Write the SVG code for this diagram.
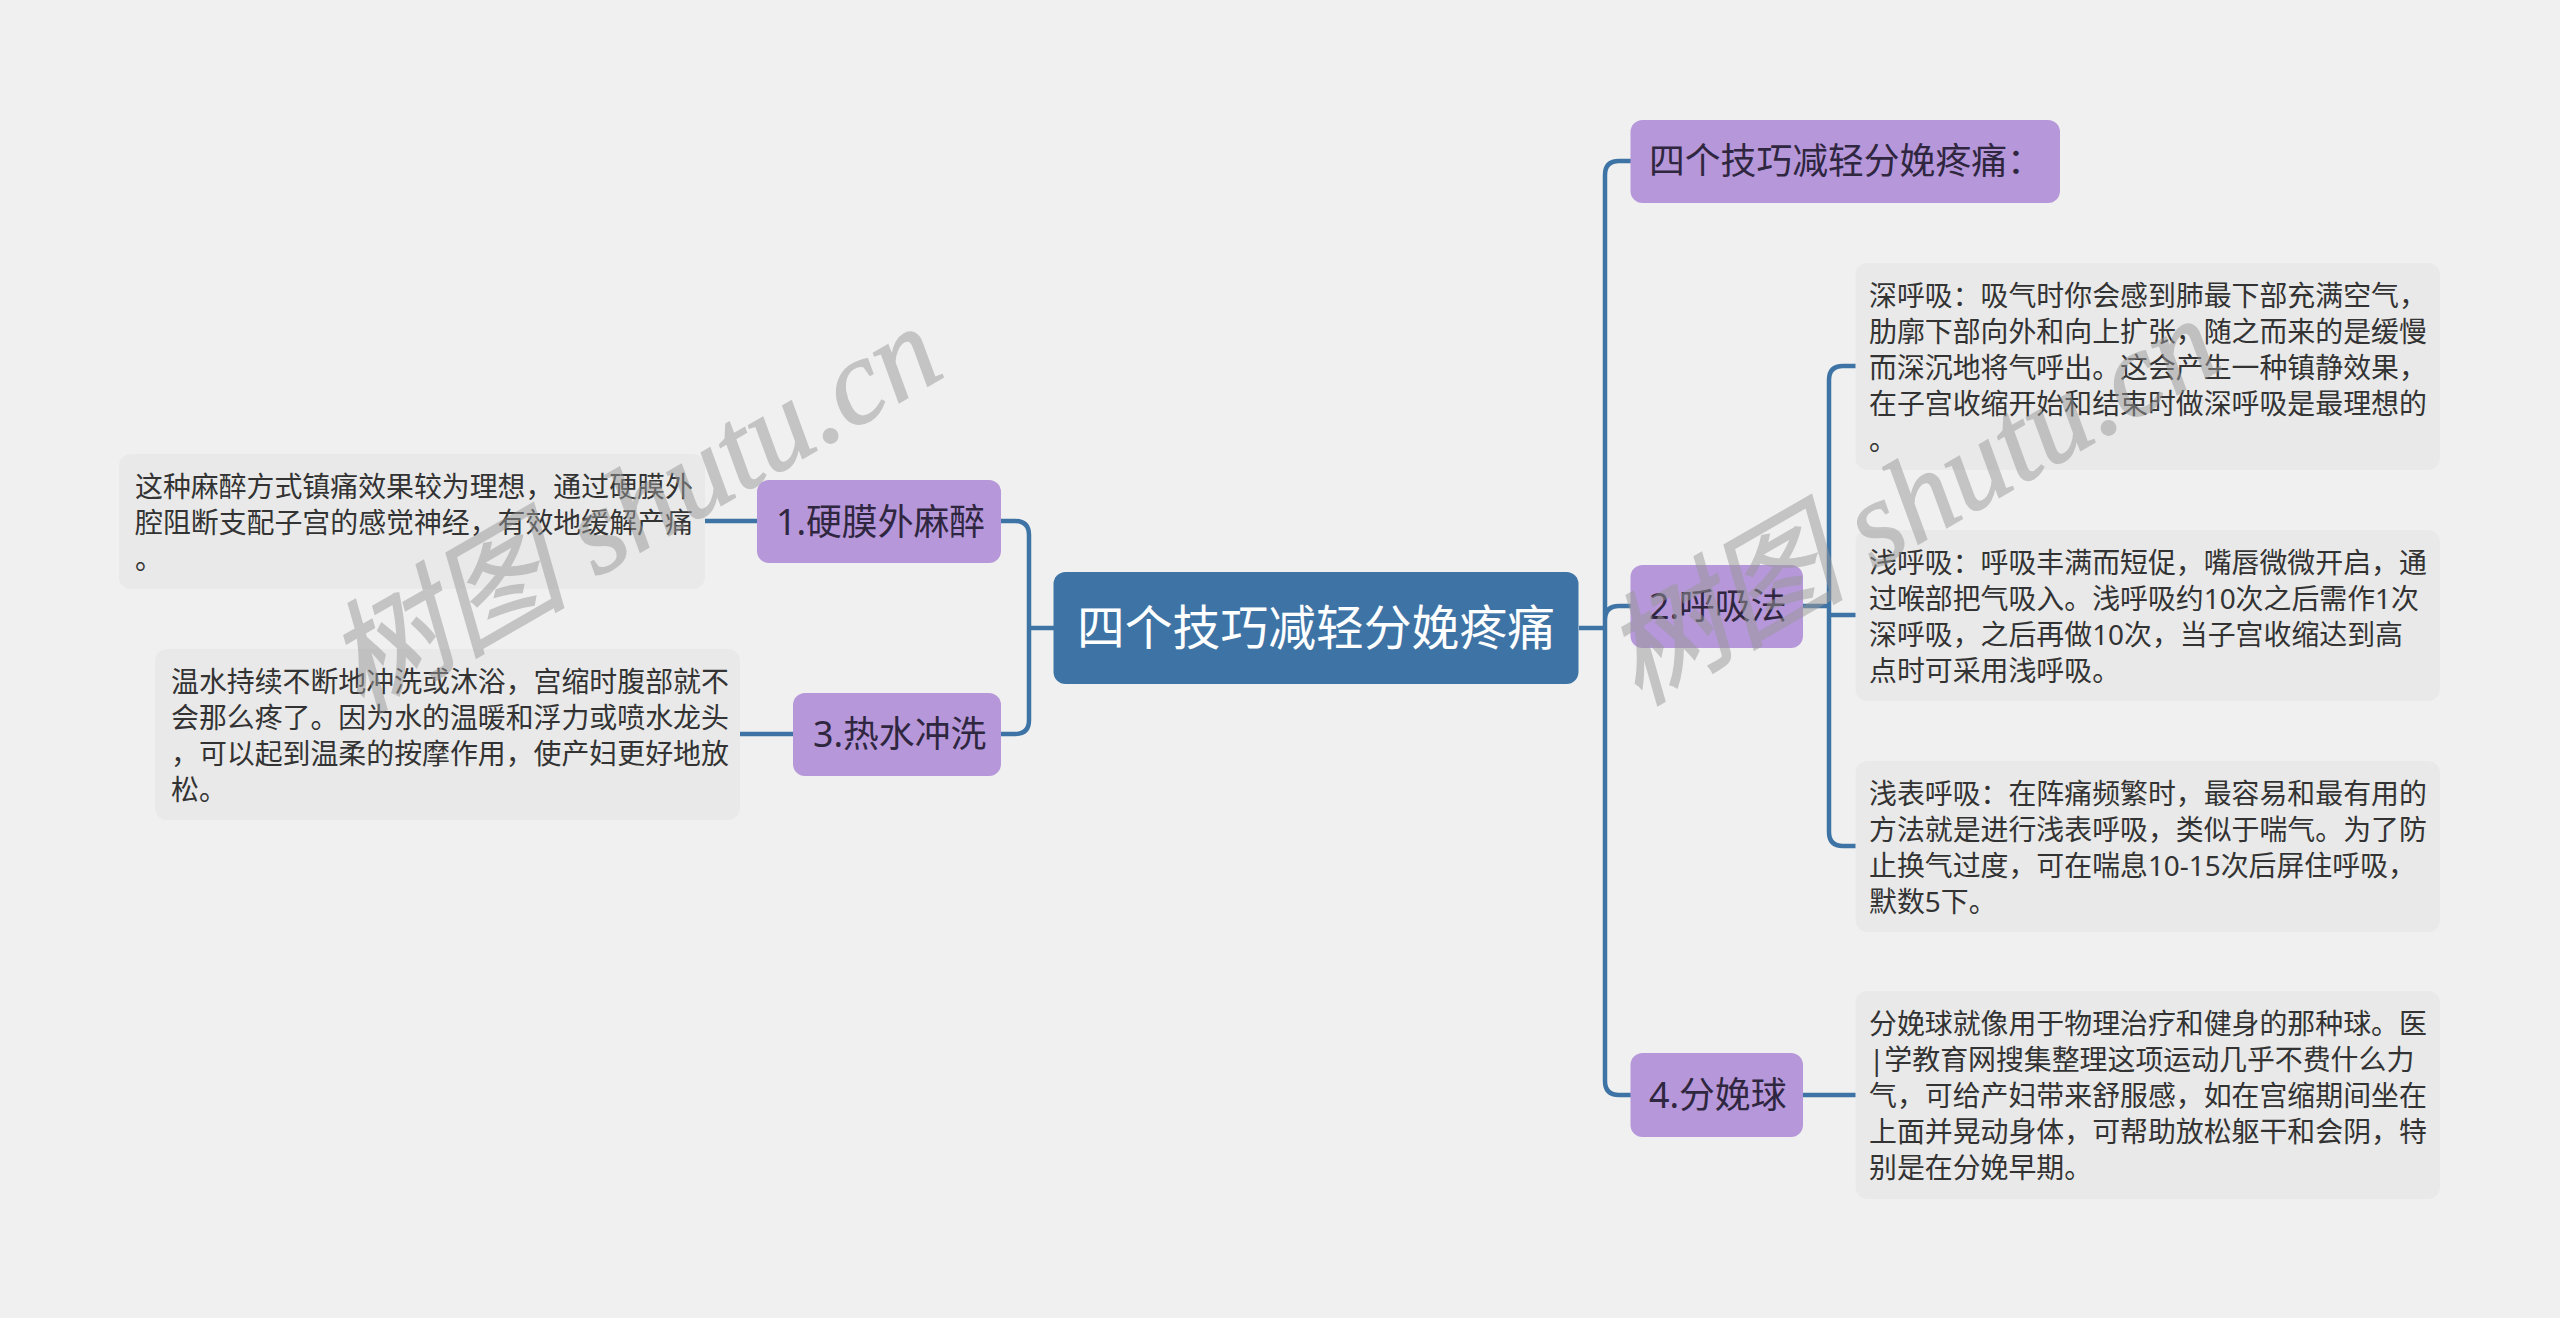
<svg xmlns="http://www.w3.org/2000/svg" width="2560" height="1318" viewBox="0 0 2560 1318">
<style>
text{font-family:"Noto Sans","Noto Sans CJK SC",sans-serif;font-weight:400}
.c{fill:none;stroke:#3e74a5;stroke-width:4.5}
.r{fill:#3e74a5}
.m{fill:#b697d9}
.d{fill:#e9e9e9}
.rt{font-size:47.8px;fill:#fff}
.mt{font-size:35.8px;fill:#2f2640}
.dt{font-size:27.9px;fill:#333}
.w{font-family:"Liberation Serif","Noto Sans CJK SC",serif;font-style:italic;font-weight:400;font-size:121px;fill:#999;stroke:#999;stroke-width:1.5;opacity:.5}
</style>
<rect width="2560" height="1318" fill="#f0f0f0"/>
<g id="connectors">
<path class="c" d="M1054 628H1029M1001 521H1015Q1029 521 1029 535V720Q1029 734 1015 734H1001"/>
<path class="c" d="M1579 628H1605M1631 161H1619Q1605 161 1605 175V1081Q1605 1095 1619 1095H1631M1631 606H1619Q1605 606 1605 620"/>
<path class="c" d="M1803 606H1829M1856 366H1843Q1829 366 1829 380V832Q1829 846 1843 846H1856M1829 615H1856"/>
<path class="c" d="M704 521H757M740 734H793M1803 1095H1856"/>
</g>
<g id="root"><rect class="r" x="1053.5" y="572" width="525" height="112" rx="12"/><text class="rt" x="1077" y="645">四个技巧减轻分娩疼痛</text></g>
<g id="n0"><rect class="m" x="1630.5" y="120" width="429.5" height="83" rx="12"/><text class="mt" x="1649" y="174">四个技巧减轻分娩疼痛：</text></g>
<g id="n2"><rect class="m" x="1630.5" y="565" width="172.5" height="83" rx="12"/><text class="mt" x="1649" y="619">2.呼吸法</text></g>
<g id="n4"><rect class="m" x="1630.5" y="1053" width="172.5" height="84" rx="12"/><text class="mt" x="1649" y="1108">4.分娩球</text></g>
<g id="n1"><rect class="m" x="757" y="480" width="244" height="83" rx="12"/><text class="mt" x="776" y="535">1.硬膜外麻醉</text></g>
<g id="n3"><rect class="m" x="793" y="693" width="208" height="83" rx="12"/><text class="mt" x="813" y="747">3.热水冲洗</text></g>
<g id="d1"><rect class="d" x="1855.5" y="263" width="584.5" height="207" rx="12"/>
<text class="dt"><tspan x="1869" y="306">深呼吸：吸气时你会感到肺最下部充满空气，</tspan><tspan x="1869" y="342">肋廓下部向外和向上扩张，随之而来的是缓慢</tspan><tspan x="1869" y="378">而深沉地将气呼出。这会产生一种镇静效果，</tspan><tspan x="1869" y="414">在子宫收缩开始和结束时做深呼吸是最理想的</tspan><tspan x="1869" y="450">。</tspan></text></g>
<g id="d2"><rect class="d" x="1855.5" y="530" width="584.5" height="171" rx="12"/>
<text class="dt"><tspan x="1869" y="573">浅呼吸：呼吸丰满而短促，嘴唇微微开启，通</tspan><tspan x="1869" y="609">过喉部把气吸入。浅呼吸约10次之后需作1次</tspan><tspan x="1869" y="645">深呼吸，之后再做10次，当子宫收缩达到高</tspan><tspan x="1869" y="681">点时可采用浅呼吸。</tspan></text></g>
<g id="d3"><rect class="d" x="1855.5" y="761" width="584.5" height="171" rx="12"/>
<text class="dt"><tspan x="1869" y="804">浅表呼吸：在阵痛频繁时，最容易和最有用的</tspan><tspan x="1869" y="840">方法就是进行浅表呼吸，类似于喘气。为了防</tspan><tspan x="1869" y="876">止换气过度，可在喘息10-15次后屏住呼吸，</tspan><tspan x="1869" y="912">默数5下。</tspan></text></g>
<g id="d4"><rect class="d" x="1855.5" y="991" width="584.5" height="208" rx="12"/>
<text class="dt"><tspan x="1869" y="1034">分娩球就像用于物理治疗和健身的那种球。医</tspan><tspan x="1869" y="1070">|学教育网搜集整理这项运动几乎不费什么力</tspan><tspan x="1869" y="1106">气，可给产妇带来舒服感，如在宫缩期间坐在</tspan><tspan x="1869" y="1142">上面并晃动身体，可帮助放松躯干和会阴，特</tspan><tspan x="1869" y="1178">别是在分娩早期。</tspan></text></g>
<g id="da"><rect class="d" x="119" y="454" width="586" height="135" rx="12"/>
<text class="dt"><tspan x="135" y="497">这种麻醉方式镇痛效果较为理想，通过硬膜外</tspan><tspan x="135" y="533">腔阻断支配子宫的感觉神经，有效地缓解产痛</tspan><tspan x="135" y="569">。</tspan></text></g>
<g id="db"><rect class="d" x="155" y="649" width="585" height="171" rx="12"/>
<text class="dt"><tspan x="171" y="692">温水持续不断地冲洗或沐浴，宫缩时腹部就不</tspan><tspan x="171" y="728">会那么疼了。因为水的温暖和浮力或喷水龙头</tspan><tspan x="171" y="764">，可以起到温柔的按摩作用，使产妇更好地放</tspan><tspan x="171" y="800">松。</tspan></text></g>
<g id="watermarks">
<text class="w" transform="translate(360 714) rotate(-30)">树图 shutu.cn</text>
<text class="w" transform="translate(1638 706) rotate(-30)">树图 shutu.cn</text>
</g>
</svg>
